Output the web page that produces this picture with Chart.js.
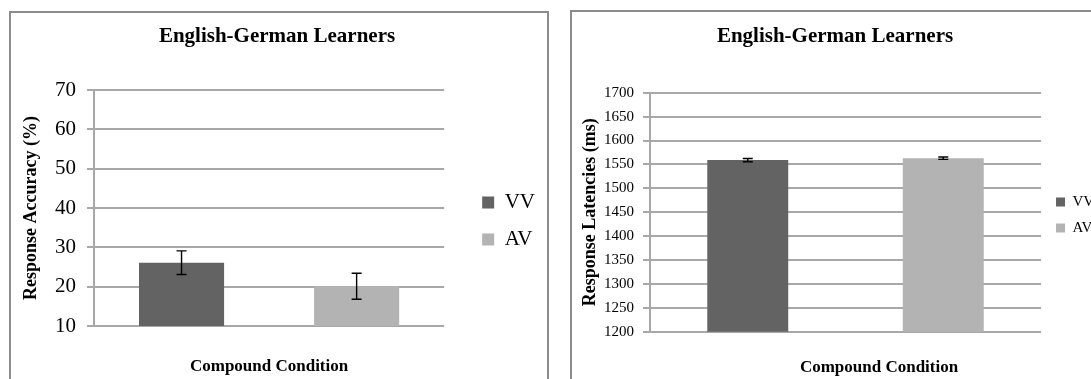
<!DOCTYPE html>
<html>
<head>
<meta charset="utf-8">
<script src="https://cdn.jsdelivr.net/npm/chart.js@4.4.1/dist/chart.umd.min.js"></script>
<style>
html, body { margin: 0; padding: 0; background: #fff; width: 1091px; height: 379px; overflow: hidden; }
.panel { position: absolute; border: 2px solid #8c8c8c; box-sizing: border-box; }
canvas { position: absolute; top: 0; }
</style>
</head>
<body>
<div class="panel" style="left:9px;top:11px;width:540px;height:420px"></div>
<div class="panel" style="left:570px;top:10px;width:600px;height:420px"></div>
<canvas id="accuracy" width="545" height="442" style="left:0"></canvas>
<canvas id="latency" width="545" height="430" style="left:560px"></canvas>
<script>
// data
const categories = [''];
const series = ['VV', 'AV'];
const accuracyMeans = [26.1, 20.1];
const accuracyErrors = [3.0, 3.3];
const accuracyTicks = [10, 20, 30, 40, 50, 60, 70];
const latencyMeans = [1559, 1563];
const latencyErrors = [3.5, 2.5];
const latencyTicks = [1200, 1250, 1300, 1350, 1400, 1450, 1500, 1550, 1600, 1650, 1700];

const barColors = ['#636363', '#b3b3b3'];
const gridColor = '#a8a8a8';
const serif = '"Liberation Serif", "Times New Roman", serif';

Chart.defaults.font.family = serif;
Chart.defaults.color = '#000';

// error bars on top of each bar
const errorBars = {
    id: 'errorBars',
    afterDatasetsDraw(chart, args, opts) {
        const ctx = chart.ctx;
        const y = chart.scales.y;
        ctx.save();
        ctx.strokeStyle = '#000';
        ctx.lineWidth = 1.4;
        chart.data.datasets.forEach((ds, i) => {
            chart.getDatasetMeta(i).data.forEach((bar, j) => {
                const v = ds.data[j], e = ds.errors[j];
                const top = y.getPixelForValue(v + e);
                const bot = y.getPixelForValue(v - e);
                ctx.beginPath();
                ctx.moveTo(bar.x, top); ctx.lineTo(bar.x, bot);
                ctx.moveTo(bar.x - opts.cap, top); ctx.lineTo(bar.x + opts.cap, top);
                ctx.moveTo(bar.x - opts.cap, bot); ctx.lineTo(bar.x + opts.cap, bot);
                ctx.stroke();
            });
        });
        ctx.restore();
    }
};

// horizontal axis caption under the plot
const caption = {
    id: 'caption',
    afterDraw(chart, args, opts) {
        const ctx = chart.ctx;
        const a = chart.chartArea;
        ctx.save();
        ctx.font = 'bold ' + opts.size + 'px ' + serif;
        ctx.fillStyle = '#000';
        ctx.textAlign = 'center';
        ctx.textBaseline = 'middle';
        ctx.fillText(opts.text, (a.left + a.right) / 2 + opts.dx, a.bottom + opts.dy);
        ctx.restore();
    }
};

function makeDatasets(means, errors, barPct) {
    return series.map((name, i) => ({
        label: name,
        data: [means[i]],
        errors: [errors[i]],
        backgroundColor: barColors[i],
        categoryPercentage: 1,
        barPercentage: barPct
    }));
}

new Chart(document.getElementById('accuracy'), {
    type: 'bar',
    data: { labels: categories, datasets: makeDatasets(accuracyMeans, accuracyErrors, 0.486) },
    options: {
        responsive: false,
        devicePixelRatio: 1,
        animation: false,
        layout: { padding: { left: 9, right: 0, top: 0, bottom: 0 } },
        scales: {
            x: {
                grid: { display: false }, border: { display: false }, ticks: { display: false },
                afterFit: s => { s.height = 116; }
            },
            y: {
                min: accuracyTicks[0], max: accuracyTicks[accuracyTicks.length - 1],
                ticks: { stepSize: 10, padding: 11, font: { size: 21 } },
                grid: { color: gridColor, lineWidth: 2, tickLength: 7 },
                border: { color: gridColor, width: 2 },
                title: { display: true, text: 'Response Accuracy (%)', font: { size: 18, weight: 'bold' }, padding: { top: 12, bottom: 0 } },
                afterFit: s => { s.width = 85; }
            },
            gap: {
                type: 'linear', position: 'right',
                grid: { display: false }, border: { display: false }, ticks: { display: false },
                afterFit: s => { s.width = 22; }
            }
        },
        plugins: {
            title: { display: true, text: 'English-German Learners', font: { size: 21, weight: 'bold' }, padding: { top: 24.4, bottom: 40.4 } },
            legend: { position: 'right', labels: { boxWidth: 12, boxHeight: 12, padding: 16, font: { size: 21 } } },
            tooltip: { enabled: false },
            errorBars: { cap: 5 },
            caption: { text: 'Compound Condition', size: 17, dx: 0, dy: 41 }
        }
    },
    plugins: [errorBars, caption]
});

new Chart(document.getElementById('latency'), {
    type: 'bar',
    data: { labels: categories, datasets: makeDatasets(latencyMeans, latencyErrors, 0.414) },
    options: {
        responsive: false,
        devicePixelRatio: 1,
        animation: false,
        layout: { padding: { left: 5.8, right: 0.8, top: 0, bottom: 0 } },
        scales: {
            x: {
                grid: { display: false }, border: { display: false }, ticks: { display: false },
                afterFit: s => { s.height = 98.3; }
            },
            y: {
                min: latencyTicks[0], max: latencyTicks[latencyTicks.length - 1],
                ticks: { stepSize: 50, padding: 9, font: { size: 15 }, callback: v => String(v) },
                grid: { color: gridColor, lineWidth: 2, tickLength: 7 },
                border: { color: gridColor, width: 2 },
                title: { display: true, text: 'Response Latencies (ms)', font: { size: 18, weight: 'bold' }, padding: { top: 13.4, bottom: 0 } },
                afterFit: s => { s.width = 84.2; }
            },
            gap: {
                type: 'linear', position: 'right',
                grid: { display: false }, border: { display: false }, ticks: { display: false },
                afterFit: s => { s.width = 4; }
            }
        },
        plugins: {
            title: { display: true, text: 'English-German Learners', font: { size: 21, weight: 'bold' }, padding: { top: 24.4, bottom: 43.1 } },
            legend: { position: 'right', labels: { boxWidth: 9, boxHeight: 9, padding: 11, font: { size: 15 } } },
            tooltip: { enabled: false },
            errorBars: { cap: 5 },
            caption: { text: 'Compound Condition', size: 17, dx: 33.5, dy: 36.3 }
        }
    },
    plugins: [errorBars, caption]
});
</script>
</body>
</html>
